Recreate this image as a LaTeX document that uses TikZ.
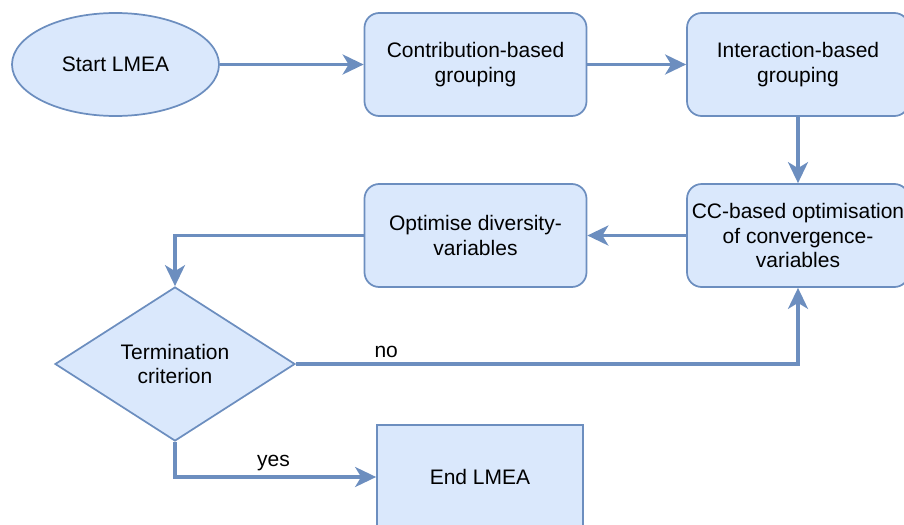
\documentclass[tikz,border=0pt]{standalone}
\usepackage{fontspec}
\setmainfont{Liberation Sans}
\usetikzlibrary{arrows.meta}
\usetikzlibrary{shapes.geometric}
\definecolor{boxfill}{HTML}{DAE8FC}
\definecolor{boxline}{HTML}{6C8EBF}

\begin{document}
\begin{tikzpicture}[x=0.75pt,y=-0.75pt,
    every node/.style={font=\fontsize{15.75}{18.4}\selectfont, align=center},
    box/.style={draw=boxline, fill=boxfill, line width=1.3pt, inner sep=0pt,
      minimum width=166.5pt, minimum height=77.25pt},
    roundbox/.style={box, rounded corners=11pt},
    flow/.style={draw=boxline, line width=2.5pt,
      -{Stealth[length=15.75pt,width=15pt,inset=4.5pt]}}]
      \useasboundingbox (0,0) rectangle (904,525);

      % top row
      \node[box, ellipse, minimum width=155.25pt] (start) at (115.5,64.5) {Start LMEA};
      \node[roundbox] (contrib) at (475.5,64.5) {Contribution-based\\grouping};
      \node[roundbox] (inter) at (798,64.5) {Interaction-based\\grouping};

      % middle row
      \node[roundbox] (ccopt) at (798,235.5) {CC-based optimisation\\of convergence-\\variables};
      \node[roundbox] (divopt) at (475.5,235.5) {Optimise diversity-\\variables};

      % decision and end
      \node[box, diamond, minimum width=180pt, minimum height=115.5pt] (term) at (175,364) {Termination\\criterion};
      \node[box, minimum width=154.5pt, minimum height=78pt] (endbox) at (480,477) {End LMEA};

      \draw[flow] (start.east) -- (contrib.west);
      \draw[flow] (contrib.east) -- (inter.west);
      \draw[flow] (inter.south) -- (ccopt.north);
      \draw[flow] (ccopt.west) -- (divopt.east);
      \draw[flow] (divopt.west) -| (term.north);
      \draw[flow] (term.east) -| node[pos=0.09, above] {no} (ccopt.south);
      \draw[flow] (term.south) |- node[pos=0.745, above] {yes} (endbox.west);
\end{tikzpicture}
\end{document}
